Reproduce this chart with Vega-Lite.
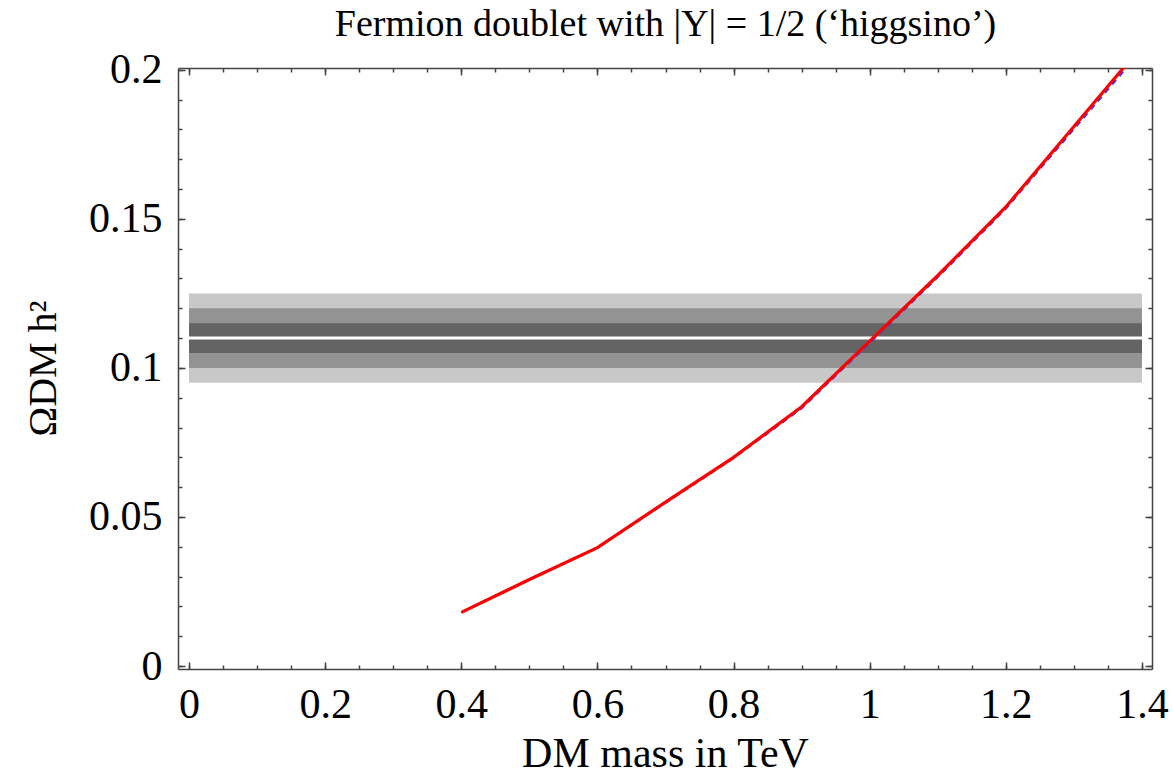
{
  "$schema": "https://vega.github.io/schema/vega-lite/v6.json",
  "width": 974,
  "height": 601,
  "autosize": {"type": "none"},
  "padding": {"left": 178, "top": 68, "right": 21, "bottom": 105},
  "background": "white",
  "config": {
    "view": {"stroke": null},
    "axis": {
      "labelFont": "Liberation Serif",
      "titleFont": "Liberation Serif",
      "labelColor": "black",
      "titleColor": "black",
      "titleFontWeight": "normal",
      "grid": false,
      "domainColor": "#444444",
      "tickColor": "#444444",
      "domainWidth": 1.5,
      "tickWidth": 1.5
    }
  },
  "datasets": {
    "bands": [
      {"x0": 0, "x1": 1.4, "lo": 0.095, "hi": 0.125, "level": "3 sigma"},
      {"x0": 0, "x1": 1.4, "lo": 0.1, "hi": 0.12, "level": "2 sigma"},
      {"x0": 0, "x1": 1.4, "lo": 0.105, "hi": 0.115, "level": "1 sigma"}
    ],
    "central": [{"x0": 0, "x1": 1.4, "omega": 0.11}],
    "blue": [
      {"m": 0.4, "omega": 0.018},
      {"m": 0.5, "omega": 0.029},
      {"m": 0.6, "omega": 0.0397},
      {"m": 0.7, "omega": 0.0548},
      {"m": 0.8, "omega": 0.0698},
      {"m": 0.9, "omega": 0.0865},
      {"m": 1.0, "omega": 0.1085},
      {"m": 1.1, "omega": 0.1305},
      {"m": 1.2, "omega": 0.1535},
      {"m": 1.3, "omega": 0.1802},
      {"m": 1.4, "omega": 0.2068}
    ],
    "red": [
      {"m": 0.4, "omega": 0.018},
      {"m": 0.5, "omega": 0.029},
      {"m": 0.6, "omega": 0.0397},
      {"m": 0.7, "omega": 0.055},
      {"m": 0.8, "omega": 0.07},
      {"m": 0.9, "omega": 0.087},
      {"m": 1.0, "omega": 0.109},
      {"m": 1.1, "omega": 0.131},
      {"m": 1.2, "omega": 0.154},
      {"m": 1.3, "omega": 0.181},
      {"m": 1.4, "omega": 0.208}
    ]
  },
  "resolve": {"axis": {"x": "independent", "y": "independent"}},
  "layer": [
    {
      "data": {"name": "bands"},
      "mark": {"type": "rect"},
      "encoding": {
        "x": {
          "field": "x0", "type": "quantitative",
          "scale": {"domain": [-0.0162, 1.4147], "nice": false, "zero": false},
          "axis": {
            "orient": "bottom",
            "values": [0, 0.2, 0.4, 0.6, 0.8, 1, 1.2, 1.4],
            "format": "~g",
            "tickSize": -7,
            "labelPadding": 22,
            "labelFontSize": 42,
            "labelFlush": false,
            "labelOverlap": false,
            "domain": true,
            "title": "DM mass in TeV",
            "titleFontSize": 42,
            "titleBaseline": "alphabetic",
            "titleX": 487,
            "titleY": 97
          }
        },
        "x2": {"field": "x1"},
        "y": {
          "field": "lo", "type": "quantitative",
          "scale": {"domain": [-0.001, 0.2006], "nice": false, "zero": false},
          "axis": {
            "orient": "left",
            "values": [0, 0.05, 0.1, 0.15, 0.2],
            "format": "~g",
            "tickSize": -7,
            "labelPadding": 23,
            "labelFontSize": 42,
            "labelFlush": false,
            "labelOverlap": false,
            "domain": true,
            "title": "ΩDM h²",
            "titleFontSize": 40,
            "titleAngle": -90,
            "titleBaseline": "alphabetic",
            "titleX": -123,
            "titleY": 300
          }
        },
        "y2": {"field": "hi"},
        "color": {
          "field": "level", "type": "nominal",
          "scale": {"domain": ["3 sigma", "2 sigma", "1 sigma"], "range": ["#c8c8c8", "#939393", "#646464"]},
          "legend": null
        }
      }
    },
    {
      "data": {"name": "central"},
      "mark": {"type": "rule", "color": "white", "strokeWidth": 3},
      "encoding": {
        "x": {
          "field": "x0", "type": "quantitative",
          "scale": {"domain": [-0.0162, 1.4147], "nice": false, "zero": false},
          "axis": {
            "orient": "bottom",
            "values": [0, 0.05, 0.1, 0.15, 0.2, 0.25, 0.3, 0.35, 0.4, 0.45, 0.5, 0.55, 0.6, 0.65, 0.7, 0.75, 0.8, 0.85, 0.9, 0.95, 1, 1.05, 1.1, 1.15, 1.2, 1.25, 1.3, 1.35, 1.4],
            "labels": false,
            "domain": false,
            "tickSize": -4,
            "title": null
          }
        },
        "x2": {"field": "x1"},
        "y": {
          "field": "omega", "type": "quantitative",
          "scale": {"domain": [-0.001, 0.2006], "nice": false, "zero": false},
          "axis": {
            "orient": "left",
            "values": [0, 0.01, 0.02, 0.03, 0.04, 0.05, 0.06, 0.07, 0.08, 0.09, 0.1, 0.11, 0.12, 0.13, 0.14, 0.15, 0.16, 0.17, 0.18, 0.19, 0.2],
            "labels": false,
            "domain": false,
            "tickSize": -4,
            "title": null
          }
        }
      }
    },
    {
      "data": {"name": "blue"},
      "mark": {"type": "line", "color": "#3a3aff", "strokeWidth": 2.5, "strokeDash": [6, 5], "clip": true},
      "encoding": {
        "x": {
          "field": "m", "type": "quantitative",
          "scale": {"domain": [-0.0162, 1.4147], "nice": false, "zero": false},
          "axis": {
            "orient": "top",
            "values": [0, 0.2, 0.4, 0.6, 0.8, 1, 1.2, 1.4],
            "labels": false,
            "domain": true,
            "tickSize": -7,
            "title": "Fermion doublet with |Y| = 1/2 (‘higgsino’)",
            "titleFontSize": 38,
            "titleBaseline": "alphabetic",
            "titleX": 487,
            "titleY": -33
          }
        },
        "y": {
          "field": "omega", "type": "quantitative",
          "scale": {"domain": [-0.001, 0.2006], "nice": false, "zero": false},
          "axis": {
            "orient": "right",
            "values": [0, 0.05, 0.1, 0.15, 0.2],
            "labels": false,
            "domain": true,
            "tickSize": -7,
            "title": null
          }
        }
      }
    },
    {
      "data": {"name": "red"},
      "mark": {"type": "line", "color": "#ff0000", "strokeWidth": 3.2, "clip": true},
      "encoding": {
        "x": {
          "field": "m", "type": "quantitative",
          "scale": {"domain": [-0.0162, 1.4147], "nice": false, "zero": false},
          "axis": {
            "orient": "top",
            "values": [0, 0.05, 0.1, 0.15, 0.2, 0.25, 0.3, 0.35, 0.4, 0.45, 0.5, 0.55, 0.6, 0.65, 0.7, 0.75, 0.8, 0.85, 0.9, 0.95, 1, 1.05, 1.1, 1.15, 1.2, 1.25, 1.3, 1.35, 1.4],
            "labels": false,
            "domain": false,
            "tickSize": -4,
            "title": null
          }
        },
        "y": {
          "field": "omega", "type": "quantitative",
          "scale": {"domain": [-0.001, 0.2006], "nice": false, "zero": false},
          "axis": {
            "orient": "right",
            "values": [0, 0.01, 0.02, 0.03, 0.04, 0.05, 0.06, 0.07, 0.08, 0.09, 0.1, 0.11, 0.12, 0.13, 0.14, 0.15, 0.16, 0.17, 0.18, 0.19, 0.2],
            "labels": false,
            "domain": false,
            "tickSize": -4,
            "title": null
          }
        }
      }
    }
  ]
}
